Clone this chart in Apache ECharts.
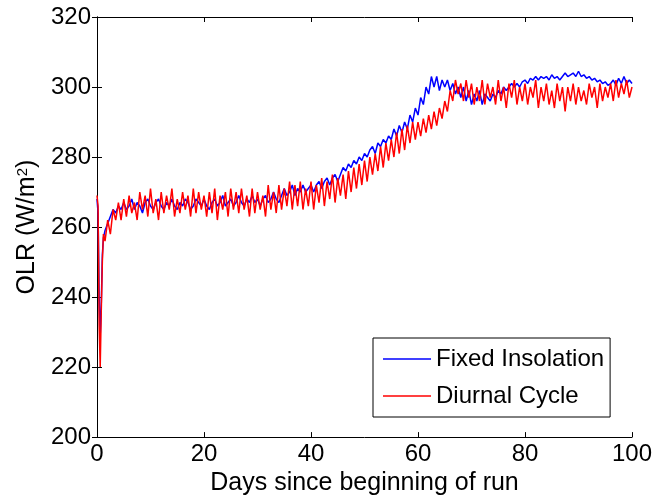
<!DOCTYPE html>
<html>
<head>
<meta charset="utf-8">
<script src="https://cdn.jsdelivr.net/npm/echarts@6/dist/echarts.min.js"></script>
<style>html,body{margin:0;padding:0;background:#fff}#c{width:659px;height:501px}</style>
</head>
<body>
<div id="c"></div>
<script>
var days = [0,0.2,0.4,0.6,0.8,1,1.2,1.5,
2,2.5,3,3.5,4,4.5,5,5.5,6,6.5,7,7.5,8,8.5,9,9.5,10,10.5,11,11.5,12,12.5,13,13.5,14,14.5,15,15.5,16,16.5,17,17.5,18,18.5,19,19.5,
20,20.5,21,21.5,22,22.5,23,23.5,24,24.5,25,25.5,26,26.5,27,27.5,28,28.5,29,29.5,30,30.5,31,31.5,32,32.5,33,33.5,34,34.5,35,35.5,36,36.5,37,37.5,38,38.5,39,39.5,
40,40.5,41,41.5,42,42.5,43,43.5,44,44.5,45,45.5,46,46.5,47,47.5,48,48.5,49,49.5,50,50.5,51,51.5,52,52.5,53,53.5,54,54.5,55,55.5,56,56.5,57,57.5,58,58.5,59,59.5,
60,60.5,61,61.5,62,62.5,63,63.5,64,64.5,65,65.5,66,66.5,67,67.5,68,68.5,69,69.5,70,70.5,71,71.5,72,72.5,73,73.5,74,74.5,75,75.5,76,76.5,77,77.5,78,78.5,79,79.5,
80,80.5,81,81.5,82,82.5,83,83.5,84,84.5,85,85.5,86,86.5,87,87.5,88,88.5,89,89.5,90,90.5,91,91.5,92,92.5,93,93.5,94,94.5,95,95.5,96,96.5,97,97.5,98,98.5,99,99.5,100];

var fixedInsolation = [268,264,240,229,238,252,257,259,
261,263,265,264,266,265,267,265,266,268,265,267,266,264,267,268,266,265,267,268,266,265,267,266,268,266,265,267,266,268,267,265,266,268,267,266,
268,266,265,267,268,266,267,269,266,267,268,266,267,269,267,266,268,267,269,267,268,266,268,269,267,268,270,268,267,269,271,269,270,272,269,271,270,272,270,271,
272,270,272,273,271,273,274,272,274,275,273,275,277,276,278,277,279,278,280,279,281,280,282,283,281,284,283,285,284,286,285,288,286,289,287,290,288,292,290,294,
292,297,295,300,298,303,300,303,299,302,300,302,299,301,298,300,297,300,296,299,295,298,296,299,295,298,297,296,298,297,299,298,300,299,300,301,300,301,300,301.5,
302,301,302.5,302,303,302,303,302.5,303,302,303.5,302.5,303,302,303,304,303,303.5,304,303,304.5,303,303.5,302.5,303,302,302.5,301.5,302,301,301.5,300.5,301,302,300.5,302.5,301,303,301,302,301];

var diurnalCycle = [269,266,232,220,236,250,258,256,
262,258,265,262,267,262,268,263,269,264,267,262,270,265,269,263,271,264,268,262,270,264,269,265,271,263,268,264,270,265,269,263,271,264,270,265,
269,263,270,264,271,262,269,265,270,263,271,265,270,264,271,265,269,263,271,264,270,265,269,263,272,265,270,264,272,265,271,266,273,265,272,266,273,265,271,266,
273,265,272,267,274,266,273,268,275,267,274,269,275,268,276,270,277,271,278,272,279,273,280,275,281,276,283,277,284,279,285,280,287,281,288,282,289,284,290,285,
290,286,291,287,292,288,293,289,294,291,296,293,299,296,302,298,301,296,302,297,301,295,300,296,302,295,301,297,300,295,302,296,300,294,301,297,302,295,300,296,
301,295,300,297,302,294,300,296,301,295,299,294,301,296,300,293,300,296,301,295,300,296,299,295,301,297,300,294,301,296,300,297,301,296,302,297,301,298,302,297,300];

var xTicks = [0,20,40,60,80,100];
var yTicks = [200,220,240,260,280,300,320];

function pairs(xs, ys){ var out=[]; for(var i=0;i<xs.length;i++){ out.push([xs[i], ys[i]]); } return out; }

var FONT = '"Liberation Sans", Arial, Helvetica, sans-serif';
var chart = echarts.init(document.getElementById('c'), null, {renderer:'canvas'});
var axisCommon = {
  axisLine:{show:true, lineStyle:{color:'#000', width:1}},
  axisTick:{show:true, inside:true, length:5, lineStyle:{color:'#000', width:1}},
  splitLine:{show:false}
};
chart.setOption({
  animation:false,
  backgroundColor:'#fff',
  grid:{left:97, right:27, top:17, bottom:63, containLabel:false},
  legend:{
    left:373, top:338,
    orient:'vertical',
    backgroundColor:'#fff', borderColor:'#000', borderWidth:1,
    padding:[9,6,9,10],
    icon:'rect',
    itemWidth:48, itemHeight:1.5, itemGap:13,
    textStyle:{fontFamily:FONT, fontSize:24, color:'#000'},
    data:['Fixed Insolation','Diurnal Cycle']
  },
  xAxis:[
    Object.assign({type:'value', min:xTicks[0], max:xTicks[xTicks.length-1], interval:20, position:'bottom',
      name:'Days since beginning of run', nameLocation:'middle', nameGap:32,
      nameTextStyle:{fontFamily:FONT, fontSize:25, color:'#000'},
      axisLabel:{fontFamily:FONT, fontSize:24, color:'#000', margin:5}}, axisCommon),
    Object.assign({type:'value', min:xTicks[0], max:xTicks[xTicks.length-1], interval:20, position:'top',
      axisLabel:{show:false}}, axisCommon)
  ],
  yAxis:[
    Object.assign({type:'value', min:yTicks[0], max:yTicks[yTicks.length-1], interval:20, position:'left',
      name:'{a|OLR (W/m}{b|2}{a|)}', nameLocation:'middle', nameGap:52,
      nameTextStyle:{fontFamily:FONT, fontSize:25, color:'#000',
        rich:{a:{fontFamily:FONT, fontSize:25, color:'#000'}, b:{fontFamily:FONT, fontSize:15, color:'#000', verticalAlign:'top', padding:[0,0,10,0]}}},
      axisLabel:{fontFamily:FONT, fontSize:24, color:'#000', margin:6}}, axisCommon),
    Object.assign({type:'value', min:yTicks[0], max:yTicks[yTicks.length-1], interval:20, position:'right',
      axisLabel:{show:false}}, axisCommon)
  ],
  series:[
    {name:'Fixed Insolation', type:'line', data:pairs(days, fixedInsolation), symbol:'none', showSymbol:false,
      lineStyle:{color:'#0000ff', width:1.5}, itemStyle:{color:'#0000ff'}, z:2},
    {name:'Diurnal Cycle', type:'line', data:pairs(days, diurnalCycle), symbol:'none', showSymbol:false,
      lineStyle:{color:'#ff0000', width:1.5}, itemStyle:{color:'#ff0000'}, z:3}
  ]
});
</script>
</body>
</html>
